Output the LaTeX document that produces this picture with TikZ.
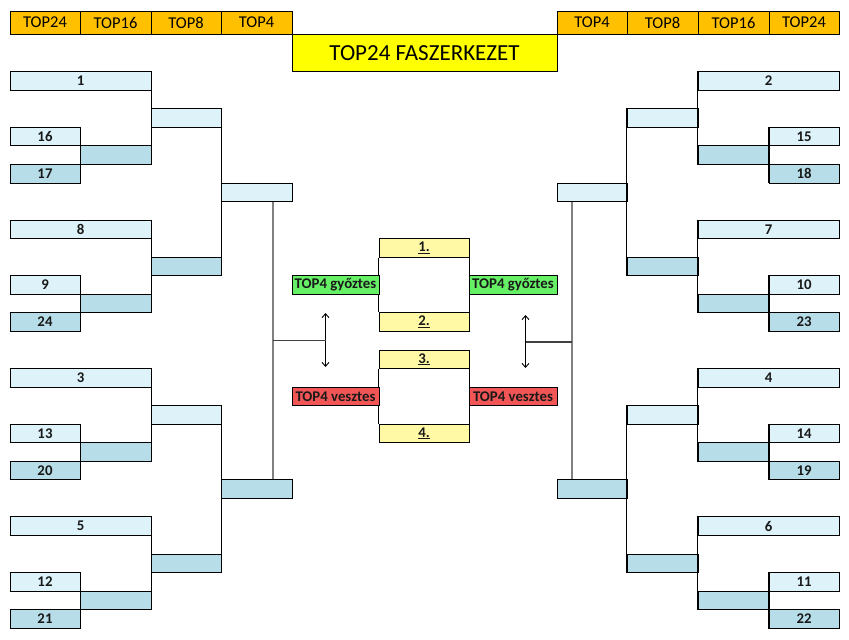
\documentclass[tikz,border=0pt]{standalone}
\usepackage{fontspec}
\setmainfont{Carlito}
\usetikzlibrary{arrows.meta,calc}
\definecolor{hdrc}{HTML}{FFC000}
\definecolor{titlec}{HTML}{FFFF00}
\definecolor{slotlite}{HTML}{DDF2F9}
\definecolor{slotdark}{HTML}{B7DEE8}
\definecolor{winc}{HTML}{66F066}
\definecolor{losec}{HTML}{F25555}
\definecolor{placec}{HTML}{FFF9A6}
\tikzset{
  slotbox/.style={draw=black, line width=0.9pt, inner sep=0pt, minimum height=18.55pt,
    font=\fontsize{14.8}{16}\selectfont\bfseries, text=black!90},
  lite/.style={fill=slotlite},
  dark/.style={fill=slotdark},
  win/.style={fill=winc},
  lose/.style={fill=losec},
  place/.style={fill=placec},
  hdrcell/.style={draw=black, line width=0.9pt, fill=hdrc, inner sep=0pt,
    minimum height=23pt, font=\fontsize{16.5}{18}\selectfont},
  titlebox/.style={draw=black, line width=0.9pt, fill=titlec, inner sep=0pt,
    minimum width=265pt, minimum height=37.7pt, font=\fontsize{23}{25}\selectfont},
  bracket/.style={draw=black, line width=1pt},
  grayline/.style={draw=black!50, line width=1.4pt},
  linkline/.style={draw=black!75, line width=1.1pt},
  dblarrow/.style={draw=black, line width=0.9pt, {Straight Barb[length=4pt,width=7pt]}-{Straight Barb[length=4pt,width=7pt]}},
}
\newcommand\mkslot[6]{\node[slotbox,#2,minimum width={(#4-#3)*1pt}] (#1) at ({(#3+#4)/2},{71.7+18.55*#5+9.275}) {#6};}
\newcommand\mkhdr[4]{\node[hdrcell,minimum width={(#3-#2)*1pt}] (#1) at ({(#2+#3)/2},22.5) {#4};}
\begin{document}
\begin{tikzpicture}[x=1pt,y=-1pt]
\useasboundingbox (0,0) rectangle (849,640);
% header
\mkhdr{HL1}{10}{80}{TOP24}
\mkhdr{HL2}{80}{151}{TOP16}
\mkhdr{HL3}{151}{221}{TOP8}
\mkhdr{HL4}{221}{292}{TOP4}
\mkhdr{HR4}{557}{627}{TOP4}
\mkhdr{HR3}{627}{698}{TOP8}
\mkhdr{HR2}{698}{769}{TOP16}
\mkhdr{HR1}{769}{839}{TOP24}
\node[titlebox] (title) at (424.5,52.85) {TOP24 FASZERKEZET};
% ---------- left side
\mkslot{Ls1}{lite}{10}{151}{0}{1}
\mkslot{Ls16}{lite}{10}{80}{3}{16}
\mkslot{Ls17}{dark}{10}{80}{5}{17}
\mkslot{Lr1}{dark}{80}{151}{4}{}
\mkslot{Lq1}{lite}{151}{221}{2}{}
\mkslot{Ls8}{lite}{10}{151}{8}{8}
\mkslot{Ls9}{lite}{10}{80}{11}{9}
\mkslot{Ls24}{dark}{10}{80}{13}{24}
\mkslot{Lr2}{dark}{80}{151}{12}{}
\mkslot{Lq2}{dark}{151}{221}{10}{}
\mkslot{Lf1}{lite}{221}{292}{6}{}
\mkslot{Ls3}{lite}{10}{151}{16}{3}
\mkslot{Ls13}{lite}{10}{80}{19}{13}
\mkslot{Ls20}{dark}{10}{80}{21}{20}
\mkslot{Lr3}{dark}{80}{151}{20}{}
\mkslot{Lq3}{lite}{151}{221}{18}{}
\mkslot{Ls5}{lite}{10}{151}{24}{5}
\mkslot{Ls12}{lite}{10}{80}{27}{12}
\mkslot{Ls21}{dark}{10}{80}{29}{21}
\mkslot{Lr4}{dark}{80}{151}{28}{}
\mkslot{Lq4}{dark}{151}{221}{26}{}
\mkslot{Lf2}{dark}{221}{292}{22}{}
\draw[bracket] (Ls16.north east) -- (Ls17.south east);
\draw[bracket] (Ls9.north east) -- (Ls24.south east);
\draw[bracket] (Ls13.north east) -- (Ls20.south east);
\draw[bracket] (Ls12.north east) -- (Ls21.south east);
\draw[bracket] (Ls1.north east) -- (Lr1.south east);
\draw[bracket] (Ls8.north east) -- (Lr2.south east);
\draw[bracket] (Ls3.north east) -- (Lr3.south east);
\draw[bracket] (Ls5.north east) -- (Lr4.south east);
\draw[bracket] (Lq1.north east) -- (Lq2.south east);
\draw[bracket] (Lq3.north east) -- (Lq4.south east);
% ---------- right side
\mkslot{Rs2}{lite}{698}{839}{0}{2}
\mkslot{Rs15}{lite}{769}{839}{3}{15}
\mkslot{Rs18}{dark}{769}{839}{5}{18}
\mkslot{Rr1}{dark}{698}{769}{4}{}
\mkslot{Rq1}{lite}{627}{698}{2}{}
\mkslot{Rs7}{lite}{698}{839}{8}{7}
\mkslot{Rs10}{lite}{769}{839}{11}{10}
\mkslot{Rs23}{dark}{769}{839}{13}{23}
\mkslot{Rr2}{dark}{698}{769}{12}{}
\mkslot{Rq2}{dark}{627}{698}{10}{}
\mkslot{Rf1}{lite}{557}{627}{6}{}
\mkslot{Rs4}{lite}{698}{839}{16}{4}
\mkslot{Rs14}{lite}{769}{839}{19}{14}
\mkslot{Rs19}{dark}{769}{839}{21}{19}
\mkslot{Rr3}{dark}{698}{769}{20}{}
\mkslot{Rq3}{lite}{627}{698}{18}{}
\mkslot{Rs6}{lite}{698}{839}{24}{6}
\mkslot{Rs11}{lite}{769}{839}{27}{11}
\mkslot{Rs22}{dark}{769}{839}{29}{22}
\mkslot{Rr4}{dark}{698}{769}{28}{}
\mkslot{Rq4}{dark}{627}{698}{26}{}
\mkslot{Rf2}{dark}{557}{627}{22}{}
\draw[bracket] (Rs15.north west) -- (Rs18.south west);
\draw[bracket] (Rs10.north west) -- (Rs23.south west);
\draw[bracket] (Rs14.north west) -- (Rs19.south west);
\draw[bracket] (Rs11.north west) -- (Rs22.south west);
\draw[bracket] (Rs2.north west) -- (Rr1.south west);
\draw[bracket] (Rs7.north west) -- (Rr2.south west);
\draw[bracket] (Rs4.north west) -- (Rr3.south west);
\draw[bracket] (Rs6.north west) -- (Rr4.south west);
\draw[bracket] (Rq1.north west) -- (Rq2.south west);
\draw[bracket] (Rq3.north west) -- (Rq4.south west);
% ---------- centre
\mkslot{P1}{place}{379}{469}{9}{\underline{1.}}
\mkslot{P2}{place}{379}{469}{13}{\underline{2.}}
\mkslot{P3}{place}{379}{469}{15}{\underline{3.}}
\mkslot{P4}{place}{379}{469}{19}{\underline{4.}}
\draw[bracket] (P1.south west) -- (P2.north west);
\draw[bracket] (P1.south east) -- (P2.north east);
\draw[bracket] (P3.south west) -- (P4.north west);
\draw[bracket] (P3.south east) -- (P4.north east);
\mkslot{Lg}{win}{292}{379}{11}{TOP4 győztes}
\mkslot{Rg}{win}{469}{557}{11}{TOP4 győztes}
\mkslot{Lv}{lose}{292}{379}{17}{TOP4 vesztes}
\mkslot{Rv}{lose}{469}{557}{17}{TOP4 vesztes}
% final links
\coordinate (Lgx) at ([xshift=16.5pt]Lf1.south);
\coordinate (Lgy) at ([xshift=16.5pt]Lf2.north);
\coordinate (Rgx) at ([xshift=-20pt]Rf1.south);
\coordinate (Rgy) at ([xshift=-20pt]Rf2.north);
\draw[grayline] (Lgx) -- (Lgy);
\draw[grayline] (Rgx) -- (Rgy);
\coordinate (LaT) at (325.5,313);
\coordinate (LaB) at (325.5,367);
\coordinate (LaM) at (325.5,340.5);
\coordinate (RaT) at (525.5,315);
\coordinate (RaB) at (525.5,368);
\coordinate (RaM) at (525.5,342);
\draw[dblarrow] (LaT) -- (LaB);
\draw[dblarrow] (RaT) -- (RaB);
\draw[linkline] (Lgx |- LaM) -- (LaM);
\draw[linkline] (Rgx |- RaM) -- (RaM);
\end{tikzpicture}
\end{document}
